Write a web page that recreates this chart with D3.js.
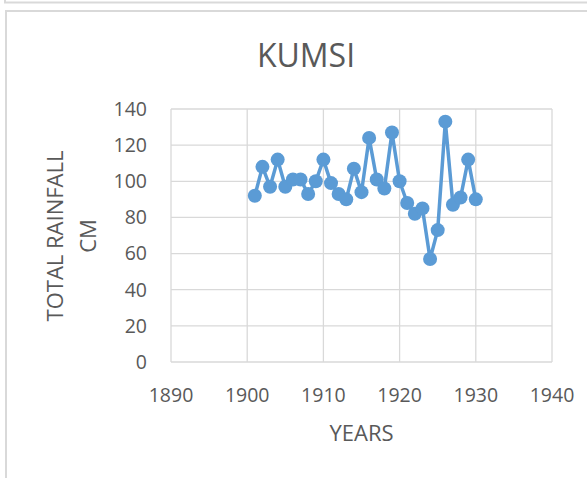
<!DOCTYPE html>
<html>
<head>
<meta charset="utf-8">
<script src="https://cdn.jsdelivr.net/npm/d3@7"></script>
<style>
  body { margin: 0; background: #fff; }
  text { font-family: "Open Sans", sans-serif; fill: #595959; }
</style>
</head>
<body>
<script>
var years = [1901, 1902, 1903, 1904, 1905, 1906, 1907, 1908, 1909, 1910,
             1911, 1912, 1913, 1914, 1915, 1916, 1917, 1918, 1919, 1920,
             1921, 1922, 1923, 1924, 1925, 1926, 1927, 1928, 1929, 1930];
var rainfall = [92, 108, 97, 112, 97, 101, 101, 93, 100, 112,
                99, 93, 90, 107, 94, 124, 101, 96, 127, 100,
                88, 82, 85, 57, 73, 133, 87, 91, 112, 90];
var xTicks = [1890, 1900, 1910, 1920, 1930, 1940];
var yTicks = [0, 20, 40, 60, 80, 100, 120, 140];
var title = "KUMSI";
var yLabel = ["TOTAL RAINFALL", "CM"];
var xLabel = "YEARS";

var width = 587,
    height = 478;
var plot = { left: 171, right: 552, top: 109, bottom: 362 };

var svg = d3.select("body").append("svg")
    .attr("width", width)
    .attr("height", height);

// frame bits (previous chart's bottom edge and this chart's box)
svg.append("path")
    .attr("d", "M5,0V2.5H" + width)
    .attr("fill", "none")
    .attr("stroke", "#d9d9d9")
    .attr("stroke-width", 2);
svg.append("path")
    .attr("d", "M" + width + ",11H6V" + height)
    .attr("fill", "none")
    .attr("stroke", "#d9d9d9")
    .attr("stroke-width", 2);

var x = d3.scaleLinear().domain([1890, 1940]).range([plot.left, plot.right]);
var y = d3.scaleLinear().domain([0, 140]).range([plot.bottom, plot.top]);

// grid
svg.append("g")
    .selectAll("line.h")
    .data(yTicks)
    .enter().append("line")
    .attr("x1", plot.left).attr("x2", plot.right)
    .attr("y1", function (d) { return y(d); })
    .attr("y2", function (d) { return y(d); })
    .attr("stroke", "#d9d9d9")
    .attr("stroke-width", 1.3);
svg.append("g")
    .selectAll("line.v")
    .data(xTicks)
    .enter().append("line")
    .attr("y1", plot.top).attr("y2", plot.bottom)
    .attr("x1", function (d) { return x(d); })
    .attr("x2", function (d) { return x(d); })
    .attr("stroke", "#d9d9d9")
    .attr("stroke-width", 1.3);

// tick labels
svg.append("g")
    .selectAll("text")
    .data(yTicks)
    .enter().append("text")
    .attr("x", 147)
    .attr("y", function (d) { return y(d); })
    .attr("dy", "0.35em")
    .attr("text-anchor", "end")
    .style("font-size", "19.5px")
    .text(function (d) { return d; });
svg.append("g")
    .selectAll("text")
    .data(xTicks)
    .enter().append("text")
    .attr("x", function (d) { return x(d); })
    .attr("y", 402)
    .attr("text-anchor", "middle")
    .style("font-size", "19.5px")
    .text(function (d) { return d; });

// titles
svg.append("text")
    .attr("x", 306)
    .attr("y", 67)
    .attr("text-anchor", "middle")
    .style("font-size", "32px")
    .text(title);
svg.append("text")
    .attr("x", 361.5)
    .attr("y", 441)
    .attr("text-anchor", "middle")
    .style("font-size", "22px")
    .text(xLabel);
svg.append("g")
    .attr("transform", "translate(0,236) rotate(-90)")
    .selectAll("text")
    .data(yLabel)
    .enter().append("text")
    .attr("x", 0)
    .attr("y", function (d, i) { return 63 + i * 33; })
    .attr("text-anchor", "middle")
    .style("font-size", "22px")
    .text(function (d) { return d; });

// series
var pts = years.map(function (d, i) { return [d, rainfall[i]]; });
svg.append("path")
    .datum(pts)
    .attr("fill", "none")
    .attr("stroke", "#5b9bd5")
    .attr("stroke-width", 3.5)
    .attr("stroke-linejoin", "round")
    .attr("d", d3.line()
        .x(function (d) { return x(d[0]); })
        .y(function (d) { return y(d[1]); }));
svg.append("g")
    .selectAll("circle")
    .data(pts)
    .enter().append("circle")
    .attr("cx", function (d) { return x(d[0]); })
    .attr("cy", function (d) { return y(d[1]); })
    .attr("r", 7)
    .attr("fill", "#5b9bd5");
</script>
</body>
</html>
